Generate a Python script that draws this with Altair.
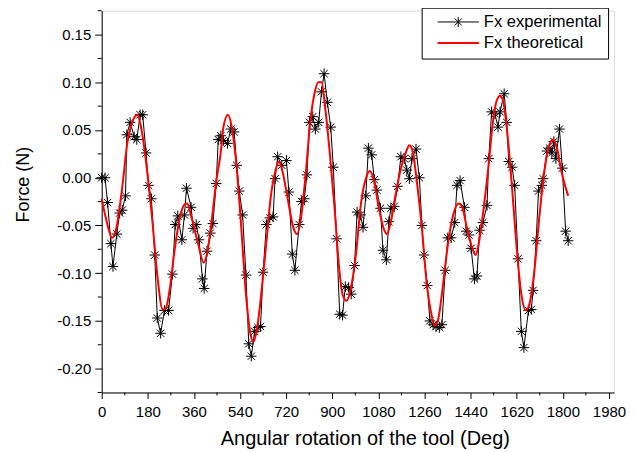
import altair as alt
import pandas as pd

# ---------------- data ----------------
exp_angle = [0, 13, 23, 36, 44, 59, 70, 80, 93, 98, 111, 127, 137, 150, 160, 173, 183, 194, 207, 217,
             230, 245, 261, 276, 287, 297, 313, 323, 331, 349, 357, 369, 380, 393, 400, 411, 424, 434, 447, 455, 465,
             475, 491, 504, 517, 527, 537, 550, 563, 574, 584, 597, 610, 620, 630, 643, 656, 669, 677, 687, 703,
             721, 731, 744, 754, 771, 780, 791, 801, 811, 824, 834, 847, 858, 868, 881, 894, 904, 917, 929, 940,
             951, 964, 974, 987, 997, 1010, 1020, 1031, 1041, 1054, 1064, 1074, 1088, 1098, 1111, 1121, 1129, 1142,
             1155, 1168, 1181, 1191, 1201, 1211, 1227, 1240, 1250, 1258, 1271, 1281, 1294, 1305, 1318, 1328, 1341,
             1351, 1364, 1378, 1387, 1399,
             1416, 1423, 1434, 1442, 1455, 1465, 1475, 1488, 1504, 1511, 1522, 1535, 1547, 1555, 1571, 1581, 1589,
             1602, 1612, 1625, 1638, 1648, 1666, 1677, 1684, 1696, 1705, 1718, 1723, 1738, 1749, 1757, 1765, 1773,
             1787, 1798, 1811, 1821]
exp_force = [0.000, 0.000, -0.026, -0.069, -0.093, -0.059, -0.037, -0.034, -0.019, 0.045, 0.058, 0.043, 0.040,
             0.066, 0.066, 0.026, -0.008, -0.022, -0.081, -0.147, -0.163, -0.139, -0.139, -0.101, -0.049, -0.040,
             -0.065, -0.039, -0.011, -0.031, -0.053, -0.049, -0.065, -0.106, -0.116, -0.077, -0.058, -0.048, -0.006,
             0.040, 0.044,
             0.039, 0.036, 0.051, 0.048, 0.013, -0.014, -0.039, -0.102, -0.174, -0.187, -0.161, -0.157, -0.156,
             -0.099, -0.049, -0.042, -0.041, -0.001, 0.022, 0.013, 0.018, -0.015, -0.080, -0.097, -0.049, -0.025,
             -0.022, 0.003, 0.058, 0.064, 0.051, 0.058, 0.090, 0.109, 0.079, 0.053, 0.011, -0.064, -0.143, -0.144,
             -0.114, -0.115, -0.122, -0.092, -0.036, -0.039, -0.052, -0.019, 0.031, 0.024, -0.002, -0.013, -0.032,
             -0.076, -0.086, -0.046, -0.032, -0.030, -0.009, 0.022, 0.020, 0.008, -0.001, 0.020, 0.030, 0.000,
             -0.050, -0.081, -0.113, -0.150, -0.154, -0.156, -0.157, -0.154, -0.097, -0.063, -0.063, -0.047,
             -0.008, -0.003,
             -0.031, -0.056, -0.060, -0.074, -0.106, -0.103, -0.055, -0.047, -0.029, 0.020, 0.069, 0.067, 0.053,
             0.069, 0.088, 0.058, 0.017, 0.011, -0.008, -0.085, -0.161, -0.178, -0.139, -0.138, -0.118, -0.066,
             -0.014, -0.008, -0.001, 0.028, 0.031, 0.026, 0.038, 0.020, 0.051, 0.010, -0.056, -0.066]

theo_angle = [0, 16, 41, 57, 78, 101, 119, 140, 155, 176, 198, 217, 238, 251, 266, 284, 305, 323, 333, 351,
              377, 398, 413, 429, 447, 465, 475, 493, 509, 527, 545, 563, 581, 592, 607, 625, 643, 659, 677, 692,
              708, 726, 749, 762, 778, 796, 814, 832, 845, 858, 873, 891, 909, 927, 940, 956, 971, 992, 1013, 1031,
              1046, 1062, 1082, 1103, 1113, 1127, 1147, 1168, 1188, 1201, 1214, 1232, 1250, 1268, 1287, 1299, 1312,
              1328, 1346, 1361, 1380, 1394, 1406, 1426, 1447, 1460, 1473, 1491, 1509, 1527, 1540, 1555, 1568, 1584,
              1602, 1620, 1638, 1656, 1671, 1690, 1708, 1726, 1744, 1762, 1777, 1795, 1821]
theo_force = [-0.022, -0.042, -0.063, -0.053, -0.015, 0.038, 0.058, 0.066, 0.051, 0.010, -0.046, -0.102, -0.138,
              -0.136, -0.116, -0.077, -0.042, -0.028, -0.027, -0.042, -0.070, -0.089, -0.077, -0.046, -0.004, 0.027,
              0.053, 0.066, 0.051, 0.010, -0.053, -0.122, -0.164, -0.172, -0.157, -0.116, -0.067, -0.022, 0.006,
              0.017, 0.004, -0.022, -0.053, -0.059, -0.042, 0.003, 0.058, 0.090, 0.100, 0.100, 0.072, 0.024, -0.032,
              -0.095, -0.122, -0.129, -0.118, -0.081, -0.025, -0.001, 0.007, -0.002, -0.032, -0.055, -0.059, -0.048,
              -0.018, 0.010, 0.027, 0.034, 0.027, -0.008, -0.053, -0.109, -0.143, -0.155, -0.150, -0.122, -0.081,
              -0.053, -0.032, -0.027, -0.030, -0.053, -0.074, -0.081, -0.067, -0.032, 0.010, 0.058, 0.079, 0.086,
              0.079, 0.045, -0.011, -0.074, -0.122, -0.139, -0.131, -0.095, -0.042, 0.003, 0.031, 0.040, 0.031,
              0.006, -0.019]

x_major = [0, 180, 360, 540, 720, 900, 1080, 1260, 1440, 1620, 1800, 1980]
x_minor = [90, 270, 450, 630, 810, 990, 1170, 1350, 1530, 1710, 1890]
y_major = [-0.20, -0.15, -0.10, -0.05, 0.00, 0.05, 0.10, 0.15]
y_minor = [-0.225, -0.175, -0.125, -0.075, -0.025, 0.025, 0.075, 0.125, 0.175]

series_names = ["Fx experimental", "Fx theoretical"]
series_colors = ["black", "red"]
series_widths = [1, 2]

# ---------------- styling ----------------
FONT = "Liberation Sans"
ASTERISK = "M-1,0L1,0M0,-1L0,1M-0.7,-0.7L0.7,0.7M-0.7,0.7L0.7,-0.7"
LEG_EXP = "M0.2,0L5.72,0M2.96,-0.67L2.96,0.67M2.49,-0.47L3.43,0.47M2.49,0.47L3.43,-0.47"
LEG_THEO = "M0.2,0L5.72,0"

W, H = 514, 383

xscale = alt.Scale(domain=[0, 2000], nice=False, zero=False)
yscale = alt.Scale(domain=[-0.225, 0.175], nice=False, zero=False)

xaxis = alt.Axis(values=x_major, format="d", title="Angular rotation of the tool (Deg)", grid=False,
                 tickSize=6, labelPadding=6, labelFontSize=15, labelFont=FONT, labelColor="black",
                 titleFontSize=20, titleFont=FONT, titleFontWeight="normal", titleColor="black",
                 titleX=264, titleY=52, titleBaseline="alphabetic", titleAlign="center",
                 domainColor="black", tickColor="black", labelFlush=False, labelOverlap=False)
yaxis = alt.Axis(values=y_major,
                 labelExpr="(datum.value < 0 ? '-' : '') + format(abs(datum.value), '.2f')",
                 title="Force (N)", grid=False, tickSize=7, labelPadding=4, labelFontSize=15,
                 labelFont=FONT, labelColor="black",
                 titleFontSize=18, titleFont=FONT, titleFontWeight="normal", titleColor="black",
                 titleX=-73, titleY=174, titleAngle=270, titleBaseline="alphabetic", titleAlign="center",
                 domainColor="black", tickColor="black", labelFlush=False, labelOverlap=False)

X = alt.X("angle:Q", scale=xscale, axis=xaxis)
Y = alt.Y("force:Q", scale=yscale, axis=yaxis)

exp_df = pd.DataFrame({"angle": exp_angle, "force": exp_force})
theo_df = pd.DataFrame({"angle": theo_angle, "force": theo_force})
xminor_df = pd.DataFrame({"angle": x_minor})
yminor_df = pd.DataFrame({"force": y_minor})
leg_df = pd.DataFrame({"series": series_names})

exp_line = alt.Chart(exp_df).mark_line(color="black", strokeWidth=1).encode(x=X, y=Y)
exp_pts = alt.Chart(exp_df).mark_point(shape=ASTERISK, size=110, filled=False, color="black",
                                       strokeWidth=1, opacity=1).encode(x=X, y=Y)
theo_line = alt.Chart(theo_df).mark_line(color="red", strokeWidth=2, interpolate="monotone").encode(x=X, y=Y)

xminor = alt.Chart(xminor_df).mark_rule(color="black", strokeWidth=1).encode(
    x=X, y=alt.value(H), y2=alt.value(H + 3))
yminor = alt.Chart(yminor_df).mark_rule(color="black", strokeWidth=1).encode(
    y=Y, x=alt.value(0), x2=alt.value(-4))

legend = alt.Legend(title=None, orient="none", legendX=321, legendY=-3, strokeColor="black",
                    fillColor="white", padding=6, rowPadding=4, labelFontSize=16.6, labelFont=FONT,
                    labelColor="black", symbolSize=225, labelOffset=39.4, symbolOpacity=1)

leg_layer = alt.Chart(leg_df).mark_point(filled=False, opacity=0).encode(
    color=alt.Color("series:N", scale=alt.Scale(domain=series_names, range=series_colors), legend=legend),
    shape=alt.Shape("series:N", scale=alt.Scale(domain=series_names, range=[LEG_EXP, LEG_THEO]), legend=legend),
    strokeWidth=alt.StrokeWidth("series:N", scale=alt.Scale(domain=series_names, range=series_widths),
                                legend=legend),
)

chart = alt.layer(xminor, yminor, exp_line, exp_pts, theo_line, leg_layer).properties(
    width=W, height=H,
    autosize=alt.AutoSizeParams(type="none"),
    padding={"left": 94, "top": 2, "right": 17, "bottom": 58},
).configure_view(stroke=None).configure(font=FONT)

chart.save("out.html", embed_options={"renderer": "svg", "actions": False})
